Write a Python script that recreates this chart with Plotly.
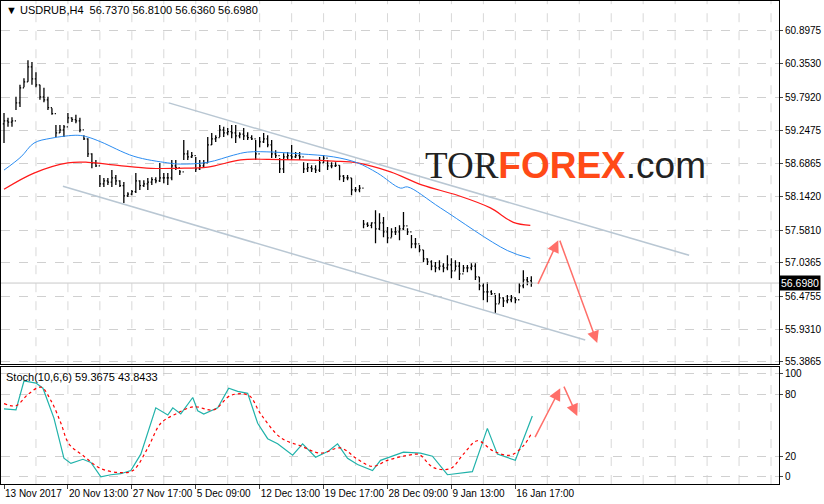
import plotly.graph_objects as go

# H4 bars (high / low / close), index 0 = 13 Nov 2017
highs = [59.53, 59.45, 59.46, 59.80, 60.00, 60.11, 60.41, 60.38, 60.21, 60.00,
         59.95, 59.80, 59.61, 59.33, 59.33, 59.33, 59.53, 59.46, 59.50, 59.45,
         59.16, 59.11, 58.86, 58.75, 58.50, 58.45, 58.45, 58.58, 58.50, 58.41,
         58.38, 58.21, 58.25, 58.53, 58.41, 58.41, 58.45, 58.46, 58.46, 58.70,
         58.53, 58.53, 58.75, 58.75, 58.58, 59.08, 58.91, 58.88, 58.80, 58.75,
         58.75, 59.13, 59.20, 59.16, 59.33, 59.30, 59.28, 59.33, 59.33, 59.21,
         59.28, 59.21, 59.16, 59.08, 59.13, 59.20, 59.16, 59.08, 58.91, 58.78,
         58.86, 58.88, 59.00, 58.88, 58.88, 58.71, 58.70, 58.66, 58.66, 58.80,
         58.83, 58.75, 58.71, 58.71, 58.66, 58.50, 58.50, 58.45, 58.30, 58.33,
         57.75, 57.71, 57.71, 57.91, 57.86, 57.80, 57.63, 57.61, 57.63, 57.66,
         57.88, 57.61, 57.50, 57.45, 57.33, 57.25, 57.11, 57.08, 57.05, 57.08,
         57.03, 57.16, 57.11, 57.08, 57.05, 57.00, 57.00, 57.03, 57.03, 56.80,
         56.70, 56.71, 56.58, 56.50, 56.53, 56.46, 56.50, 56.50, 56.46, 56.70,
         56.91, 56.80, 56.81]
lows = [59.03, 59.30, 59.30, 59.58, 59.63, 59.96, 60.05, 60.00, 59.96, 59.75,
        59.71, 59.58, 59.50, 59.13, 59.20, 59.13, 59.36, 59.38, 59.36, 59.21,
        59.08, 58.80, 58.61, 58.63, 58.30, 58.30, 58.33, 58.30, 58.33, 58.30,
        58.03, 58.13, 58.16, 58.20, 58.25, 58.30, 58.25, 58.33, 58.36, 58.38,
        58.36, 58.33, 58.41, 58.58, 58.50, 58.75, 58.75, 58.78, 58.55, 58.58,
        58.63, 58.70, 59.00, 59.05, 59.13, 59.13, 59.16, 59.11, 59.03, 59.11,
        59.08, 59.08, 59.08, 58.75, 58.96, 59.03, 58.96, 58.78, 58.78, 58.53,
        58.53, 58.75, 58.75, 58.78, 58.75, 58.53, 58.55, 58.55, 58.53, 58.55,
        58.70, 58.58, 58.61, 58.63, 58.41, 58.38, 58.41, 58.16, 58.21, 58.21,
        57.61, 57.63, 57.61, 57.36, 57.58, 57.46, 57.36, 57.46, 57.50, 57.41,
        57.58, 57.50, 57.28, 57.28, 57.21, 57.05, 57.00, 56.91, 56.88, 56.91,
        56.88, 56.91, 56.78, 56.91, 56.75, 56.88, 56.88, 56.91, 56.75, 56.58,
        56.41, 56.38, 56.50, 56.20, 56.36, 56.30, 56.36, 56.38, 56.36, 56.53,
        56.61, 56.66, 56.636]
closes = [59.40, 59.38, 59.40, 59.70, 59.95, 60.05, 60.30, 60.10, 60.00, 59.80,
          59.75, 59.62, 59.52, 59.20, 59.25, 59.30, 59.45, 59.42, 59.40, 59.25,
          59.10, 58.85, 58.70, 58.65, 58.35, 58.40, 58.38, 58.45, 58.40, 58.32,
          58.15, 58.18, 58.22, 58.40, 58.32, 58.35, 58.38, 58.42, 58.40, 58.45,
          58.45, 58.45, 58.65, 58.62, 58.55, 58.85, 58.80, 58.82, 58.60, 58.65,
          58.70, 59.00, 59.10, 59.12, 59.25, 59.20, 59.22, 59.20, 59.15, 59.18,
          59.15, 59.12, 59.10, 58.85, 59.05, 59.10, 59.00, 58.85, 58.82, 58.60,
          58.80, 58.82, 58.80, 58.82, 58.80, 58.60, 58.62, 58.60, 58.58, 58.70,
          58.78, 58.65, 58.65, 58.66, 58.48, 58.45, 58.45, 58.25, 58.25, 58.28,
          57.68, 57.66, 57.70, 57.60, 57.70, 57.55, 57.45, 57.55, 57.55, 57.60,
          57.65, 57.55, 57.35, 57.35, 57.25, 57.10, 57.05, 56.98, 56.95, 56.98,
          56.95, 57.00, 56.90, 56.98, 56.85, 56.95, 56.95, 56.98, 56.80, 56.65,
          56.55, 56.55, 56.52, 56.35, 56.45, 56.40, 56.42, 56.45, 56.42, 56.65,
          56.75, 56.72, 56.698]
opens = [59.35] + closes[:-1]
opens[-1] = 56.737

# moving averages, read at sample bars
ma_blue_x = [0, 4.25, 7.5, 11.75, 18.5, 21, 24.25, 32.5, 41, 44.25, 51,
             57.5, 61, 67.5, 74.25, 82.5, 88.5, 93.5, 99.25, 101, 109.25, 126, 131.75]
ma_blue = [58.58, 58.80, 59.03, 59.11, 59.16, 59.13, 59.05, 58.81, 58.70, 58.68,
           58.71, 58.83, 58.88, 58.88, 58.85, 58.80, 58.70, 58.53, 58.28, 58.30,
           57.95, 57.24, 57.11]
ma_red_x = [0, 7.5, 16, 21, 28.5, 36.75, 43.5, 51, 59.25, 66, 74.25, 82.5,
            88.5, 96.75, 104.75, 113.5, 121.75, 127.5, 131.75]
ma_red = [58.26, 58.53, 58.70, 58.71, 58.66, 58.61, 58.61, 58.63, 58.75, 58.76,
          58.75, 58.73, 58.70, 58.55, 58.33, 58.16, 57.95, 57.71, 57.66]

# stochastic (10,6,6)
stoch_x = [0, 3, 5, 8, 9.75, 12.5, 15, 16.75, 19.75, 21.75, 24.25, 26.75, 29.25,
           31.75, 34.25, 38, 41, 42.25, 44.25, 47.25, 48.5, 50, 53.5, 56.25, 58.5,
           61, 63.5, 66, 68.5, 72.25, 74.75, 78, 81.25, 83.5, 86, 88.5, 92.25,
           94.25, 100, 103.5, 104.25, 107.25, 111, 117.25, 121, 123.5, 128, 132.25]
stoch_main = [66, 65, 93, 91, 86, 57, 18, 13, 17, 14, 0, 2, 3, 6, 22, 67, 60, 67,
              61, 77, 64, 61, 67, 86, 83, 81, 52, 37, 32, 21, 32, 19, 25, 32, 18,
              12, 6, 16, 24, 23, 23, 20, 2, 5, 47, 22, 16, 59]
signal_x = [0, 3, 6, 9.25, 11.75, 14.25, 16.25, 20, 24.25, 29.25, 32.25, 36,
            39.25, 43, 47.5, 52.5, 56.75, 61.25, 64.25, 69.25, 74.25, 79.25, 84.25,
            88.5, 92.25, 96, 100, 103.5, 104.25, 107.5, 111.75, 115, 118.5, 122.5,
            126.75, 130, 132]
stoch_signal = [71, 69, 80, 87, 74, 52, 32, 20, 8, 4, 6, 28, 52, 61, 68, 65, 79,
                79, 61, 38, 30, 23, 28, 17, 10, 16, 20, 22, 21, 9, 8, 22, 35, 25,
                21, 30, 42]

# channel and forecast arrows
chan_up_x, chan_up_y = [41.25, 171.5], [59.70, 57.16]
chan_dn_x, chan_dn_y = [14.75, 145.5], [58.31, 55.75]
arrow_px = [133.5, 138.75, 139, 148.5]
arrow_py = [56.66, 57.41, 57.43, 55.70]
arrow_sx = [132.75, 139.25, 140, 143.5]
arrow_sy = [37, 86, 89, 59]

price_ticks = [60.8975, 60.3530, 59.7920, 59.2475, 58.6865, 58.1420,
               57.5810, 57.0365, 56.4755, 55.9310, 55.3865]
date_pos = [0, 16, 32, 48, 64, 80, 96, 112, 128]
date_labels = ['13 Nov 2017', '20 Nov 13:00', '27 Nov 17:00', '5 Dec 09:00',
               '12 Dec 13:00', '19 Dec 17:00', '28 Dec 09:00', '9 Jan 13:00',
               '16 Jan 17:00']
last_price = 56.698

n = len(closes)
x = list(range(n))
XR = [-0.75, 194]

fig = go.Figure()
grey = '#b9c7d3'
P = dict(xaxis='x2', yaxis='y')
fig.add_trace(go.Scatter(x=chan_up_x, y=chan_up_y, mode='lines', line=dict(color=grey, width=1.5), **P))
fig.add_trace(go.Scatter(x=chan_dn_x, y=chan_dn_y, mode='lines', line=dict(color=grey, width=1.5), **P))
fig.add_trace(go.Scatter(x=XR, y=[last_price] * 2, mode='lines', line=dict(color='#c8c8c8', width=1), **P))
fig.add_trace(go.Scatter(x=ma_red_x, y=ma_red, mode='lines', line=dict(color='#ff1a1a', width=1.2, shape='spline'), **P))
fig.add_trace(go.Scatter(x=ma_blue_x, y=ma_blue, mode='lines', line=dict(color='#2b8cf0', width=1, shape='spline'), **P))
fig.add_trace(go.Ohlc(x=x, open=opens, high=highs, low=lows, close=closes, tickwidth=0.3,
                      increasing=dict(line=dict(color='black', width=1.3)),
                      decreasing=dict(line=dict(color='black', width=1.3)), **P))
fig.add_trace(go.Scatter(x=stoch_x, y=stoch_main, mode='lines', line=dict(color='#20b2aa', width=1.2), xaxis='x', yaxis='y2'))
fig.add_trace(go.Scatter(x=signal_x, y=stoch_signal, mode='lines', line=dict(color='#ff0000', width=1.2, dash='dot', shape='spline'), xaxis='x', yaxis='y2'))

arrow_col = '#ff6f69'
for xr, yr, xs, ys in [('x2', 'y', arrow_px, arrow_py), ('x', 'y2', arrow_sx, arrow_sy)]:
    for i in (0, 2):
        fig.add_annotation(x=xs[i + 1], y=ys[i + 1], ax=xs[i], ay=ys[i], xref=xr, yref=yr,
                           axref=xr, ayref=yr, showarrow=True, arrowhead=2, arrowsize=1.6,
                           arrowwidth=1.5, arrowcolor=arrow_col, text='')

fig.add_annotation(xref='paper', yref='paper', x=0.004, y=0.997, xanchor='left', yanchor='top',
                   text='▼ USDRUB,H4  56.7370 56.8100 56.6360 56.6980', showarrow=False,
                   font=dict(size=11, color='black'))
fig.add_annotation(xref='paper', yref='paper', x=0.004, y=0.238, xanchor='left', yanchor='top',
                   text='Stoch(10,6,6) 59.3675 43.8433', showarrow=False, font=dict(size=11, color='black'))
fig.add_annotation(xref='paper', yref='paper', x=0.542, y=0.66, xanchor='left', yanchor='middle',
                   text="<span style='color:#222;font-family:Liberation Serif'>TOR</span><b style='color:#ff4a17'>FOREX</b><span style='color:#222'>.com</span>",
                   showarrow=False, font=dict(size=37, family='Liberation Sans Narrow, Liberation Sans'))
fig.add_annotation(xref='paper', yref='y', x=1.0, y=last_price, xanchor='left', text='56.6980',
                   showarrow=False, bgcolor='black', font=dict(color='white', size=10.5), borderpad=1)

grid = dict(showgrid=True, gridcolor='#d0d0d0', griddash='dash', gridwidth=1)
xcommon = dict(range=XR, showline=True, linecolor='black', mirror=True, zeroline=False,
               showgrid=False, automargin=False)
fig.update_layout(
    width=824, height=504, showlegend=False,
    margin=dict(l=1, r=45, t=1, b=20),
    plot_bgcolor='white', paper_bgcolor='white',
    font=dict(family='Liberation Sans', size=10, color='black'),
    xaxis=dict(anchor='y2', tickvals=date_pos, ticktext=date_labels, ticks='outside', ticklen=4,
               tickangle=0, ticklabelposition='outside right', rangeslider=dict(visible=False), **xcommon),
    xaxis2=dict(anchor='y', matches='x', showticklabels=False, rangeslider=dict(visible=False), **xcommon),
    yaxis=dict(domain=[0.248, 1], range=[55.346, 61.397], side='right', tickvals=price_ticks,
               ticktext=['%.4f' % v for v in price_ticks], ticks='outside', ticklen=3, anchor='x2',
               showline=True, linecolor='black', mirror=True, zeroline=False, automargin=False, **grid),
    yaxis2=dict(domain=[0.0, 0.242], range=[-7, 106.5], side='right', tickvals=[0, 20, 80, 100],
                ticks='outside', ticklen=3, showline=True, linecolor='black', mirror=True,
                zeroline=False, anchor='x', automargin=False, **grid),
)
# vertical grid every 8 bars
for v in range(8, 195, 8):
    for xr, yr in (('x2', 'y domain'), ('x', 'y2 domain')):
        fig.add_shape(type='line', x0=v, x1=v, y0=0, y1=1, xref=xr, yref=yr,
                      line=dict(color='#d8d8d8', width=1, dash='dash'), layer='below')

fig.write_html("out.html", config={'displayModeBar': False},
               post_script="document.body.style.margin='0';document.body.style.overflow='hidden';")
